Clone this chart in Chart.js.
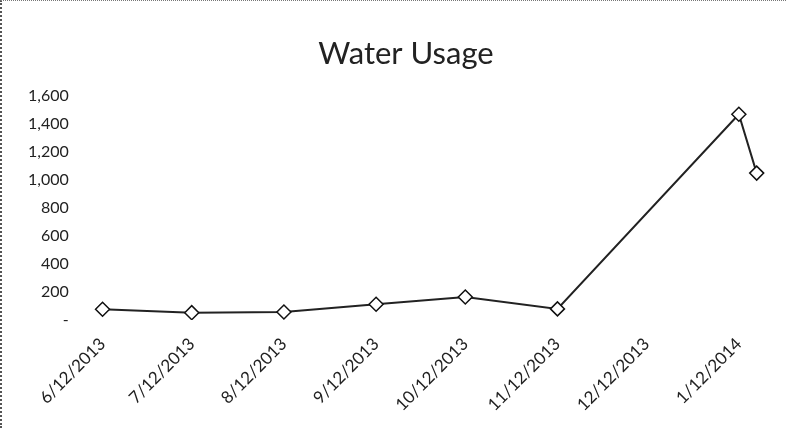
<!DOCTYPE html>
<html>
<head>
<meta charset="utf-8">
<script src="https://cdn.jsdelivr.net/npm/chart.js@4/dist/chart.umd.min.js"></script>
<style>
  html, body { margin: 0; padding: 0; background: #fff; overflow: hidden; }
  #wrap { position: relative; width: 786px; height: 428px; box-sizing: border-box;
          border-left: 2px dotted #555; border-top: 1px dotted #777; }
  canvas { display: block; }
</style>
</head>
<body>
<div id="wrap"><canvas id="c" width="784" height="427"></canvas></div>
<script>
const dates = ['2013-06-12', '2013-07-12', '2013-08-12', '2013-09-12', '2013-10-12', '2013-11-12', '2014-01-12', '2014-01-18'];
const usage = [76, 52, 57, 112, 164, 79, 1471, 1050];
const tickDates = ['2013-06-12', '2013-07-12', '2013-08-12', '2013-09-12', '2013-10-12', '2013-11-12', '2013-12-12', '2014-01-12'];
const tickLabels = ['6/12/2013', '7/12/2013', '8/12/2013', '9/12/2013', '10/12/2013', '11/12/2013', '12/12/2013', '1/12/2014'];

const toDay = s => Math.round(Date.parse(s + 'T00:00:00Z') / 86400000);
const base = toDay(dates[0]);
const points = dates.map((d, i) => ({ x: toDay(d) - base, y: usage[i] }));
const tickDays = tickDates.map(d => toDay(d) - base);

new Chart(document.getElementById('c'), {
  type: 'line',
  data: {
    datasets: [{
      data: points,
      borderColor: '#222',
      borderWidth: 2,
      pointStyle: 'rectRot',
      pointRadius: 7,
      pointBackgroundColor: '#fff',
      pointBorderColor: '#111',
      pointBorderWidth: 1.5,
      tension: 0
    }]
  },
  options: {
    responsive: false,
    animation: false,
    devicePixelRatio: 1,
    layout: { padding: { left: 24, right: 0, top: 14, bottom: 7 } },
    plugins: {
      legend: { display: false },
      tooltip: { enabled: false },
      title: {
        display: true,
        text: 'Water Usage',
        color: '#222',
        font: { family: 'Lato, "Open Sans", sans-serif', size: 31, weight: 'normal' },
        padding: { top: 20, bottom: 24 }
      }
    },
    scales: {
      x: {
        type: 'linear',
        min: -8,
        max: tickDays[tickDays.length - 1] + 13,
        grid: { display: false },
        border: { display: false },
        afterBuildTicks: axis => { axis.ticks = tickDays.map(v => ({ value: v })); },
        ticks: {
          autoSkip: false,
          minRotation: 45,
          maxRotation: 45,
          padding: 6,
          color: '#222',
          font: { family: 'Lato, "Open Sans", sans-serif', size: 17 },
          callback: (v, i) => tickLabels[i]
        }
      },
      y: {
        min: 0,
        max: 1600,
        grid: { display: false },
        border: { display: false },
        ticks: {
          stepSize: 200,
          color: '#222',
          padding: 2,
          font: { family: 'Lato, "Open Sans", sans-serif', size: 16 },
          callback: v => v === 0 ? '-' : v.toLocaleString('en-US')
        }
      }
    }
  }
});
</script>
</body>
</html>
